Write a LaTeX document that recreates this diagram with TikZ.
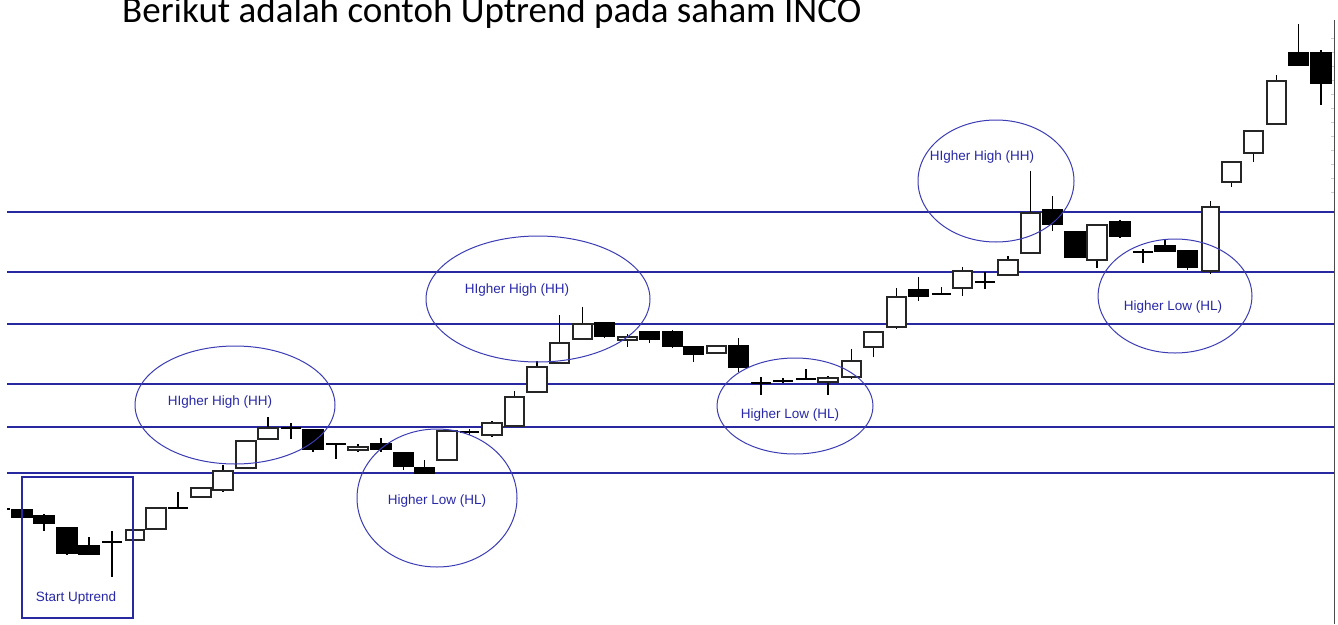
\documentclass[tikz,border=0pt]{standalone}
\usepackage{fontspec}
\setmainfont{Liberation Sans}
\newfontfamily\titlefont{Carlito}
\definecolor{hline}{RGB}{40,40,160}
\definecolor{ell}{RGB}{60,60,180}
\definecolor{lbl}{RGB}{40,40,168}
\newcommand{\wcandle}[6]{%
  \draw[wick] ({(#1+#2)/2},#5) -- ({(#1+#2)/2},#6);
  \filldraw[wbody] (#1,#3) rectangle (#2,#4);}
\newcommand{\bcandle}[6]{%
  \draw[wick] ({(#1+#2)/2},#5) -- ({(#1+#2)/2},#6);
  \filldraw[bbody] (#1,#3) rectangle (#2,#4);}
\newcommand{\dcandle}[5]{%
  \draw[wick] ({(#1+#2)/2},#4) -- ({(#1+#2)/2},#5);
  \draw[dbody] (#1,#3) -- (#2,#3);}
\begin{document}
\begin{tikzpicture}[x=1pt,y=-1pt,
  level/.style={hline,line width=1.2pt},
  ellring/.style={ell,line width=1pt},
  wick/.style={black,line width=1.2pt},
  wbody/.style={fill=white,draw=black!85,line width=1.5pt},
  bbody/.style={fill=black,draw=black,line width=1.5pt},
  dbody/.style={black,line width=2.5pt},
  lab/.style={lbl,font=\fontsize{13.5}{15}\selectfont,inner sep=0pt}]
\useasboundingbox (0,0) rectangle (1338,624);
\fill[white] (0,0) rectangle (1338,624);
% title
\node[anchor=base west,inner sep=0pt,font=\titlefont\fontsize{37}{40}\selectfont] (title) at (122,22) {Berikut adalah contoh Uptrend pada saham INCO};
% horizontal levels
\foreach \yy in {212,272,324,384,427,473} \draw[level] (7,\yy) -- (1334,\yy);
% right axis
\draw[black!70,line width=1pt] (1334,20) -- (1334,624);
\foreach \yy in {38,52,66,80,94,108,122,136,150,164,178,192} \draw[black!20,line width=0.6pt] (1331,\yy) -- (1334,\yy);
% candles
\draw[black,line width=1.2pt] (7,509) -- (10,509);
\bcandle{12}{32}{510}{517}{510}{517}
\bcandle{34}{54}{516}{523}{514}{531}
\bcandle{57}{77}{528}{553}{528}{555}
\bcandle{79}{99}{546}{554}{537}{554}
\dcandle{102}{122}{542}{531}{577}
\wcandle{126}{144}{530}{540}{530}{540}
\wcandle{146}{166}{508}{529}{508}{529}
\dcandle{168}{188}{508}{492}{508}
\wcandle{191}{211}{488}{497}{487}{497}
\wcandle{213}{233}{471}{490}{465}{492}
\wcandle{236}{256}{441}{468}{441}{468}
\wcandle{258}{278}{428}{439}{417}{440}
\dcandle{281}{301}{428}{423}{439}
\bcandle{303}{323}{430}{449}{430}{452}
\dcandle{326}{346}{444}{444}{459}
\wcandle{348}{368}{447}{450}{444}{452}
\bcandle{371}{391}{444}{449}{438}{452}
\bcandle{394}{413}{453}{466}{453}{470}
\bcandle{415}{434}{468}{473}{460}{473}
\wcandle{437}{457}{431}{460}{431}{460}
\dcandle{460}{479}{432}{429}{435}
\wcandle{482}{502}{423}{435}{421}{437}
\wcandle{505}{524}{397}{426}{391}{426}
\wcandle{527}{547}{367}{392}{361}{393}
\wcandle{550}{569}{343}{363}{315}{363}
\wcandle{573}{592}{324}{339}{307}{339}
\bcandle{595}{614}{323}{336}{323}{338}
\wcandle{618}{637}{337}{340}{334}{347}
\bcandle{640}{659}{332}{339}{332}{343}
\bcandle{663}{682}{332}{346}{330}{348}
\bcandle{684}{703}{347}{354}{347}{362}
\wcandle{707}{726}{346}{353}{346}{353}
\bcandle{729}{748}{346}{367}{338}{372}
\dcandle{751}{771}{383}{377}{395}
\dcandle{773}{793}{381}{378}{383}
\dcandle{796}{816}{379}{369}{379}
\wcandle{818}{838}{378}{382}{376}{395}
\wcandle{842}{861}{361}{377}{349}{379}
\wcandle{864}{883}{332}{347}{332}{357}
\wcandle{887}{906}{297}{327}{288}{329}
\bcandle{909}{928}{290}{296}{277}{301}
\dcandle{932}{951}{294}{287}{294}
\wcandle{953}{972}{271}{288}{267}{296}
\dcandle{975}{995}{282}{272}{289}
\wcandle{998}{1018}{260}{275}{256}{275}
\wcandle{1021}{1040}{213}{253}{171}{253}
\bcandle{1043}{1062}{210}{224}{196}{231}
\bcandle{1065}{1085}{232}{257}{232}{257}
\wcandle{1087}{1107}{225}{260}{225}{268}
\bcandle{1110}{1130}{222}{236}{220}{238}
\dcandle{1133}{1153}{252}{249}{263}
\bcandle{1155}{1175}{246}{251}{240}{251}
\bcandle{1178}{1197}{251}{267}{251}{270}
\wcandle{1202}{1219}{207}{271}{201}{274}
\wcandle{1222}{1241}{162}{182}{161}{187}
\wcandle{1244}{1263}{131}{153}{131}{162}
\wcandle{1267}{1286}{81}{124}{75}{124}
\bcandle{1289}{1308}{53}{65}{24}{65}
\bcandle{1311}{1331}{53}{83}{50}{105}
% ellipses
\draw[ellring] (235,405) ellipse[x radius=100,y radius=59];
\draw[ellring] (437,498) ellipse[x radius=80,y radius=69];
\draw[ellring] (538,299) ellipse[x radius=112,y radius=63];
\draw[ellring] (795,406) ellipse[x radius=78,y radius=48];
\draw[ellring] (996,181) ellipse[x radius=78,y radius=61];
\draw[ellring] (1175,296) ellipse[x radius=77,y radius=57];
% start box
\draw[level] (22,477) rectangle (133,618);
% labels
\node[lab] (hh1) at (220,402) {HIgher High (HH)};
\node[lab] (hl1) at (437,501) {Higher Low (HL)};
\node[lab] (hh2) at (517,290) {HIgher High (HH)};
\node[lab] (hl2) at (790,415) {Higher Low (HL)};
\node[lab] (hh3) at (982,157) {HIgher High (HH)};
\node[lab] (hl3) at (1173,307) {Higher Low (HL)};
\node[lab] (start) at (76,598) {Start Uptrend};
\end{tikzpicture}
\end{document}
